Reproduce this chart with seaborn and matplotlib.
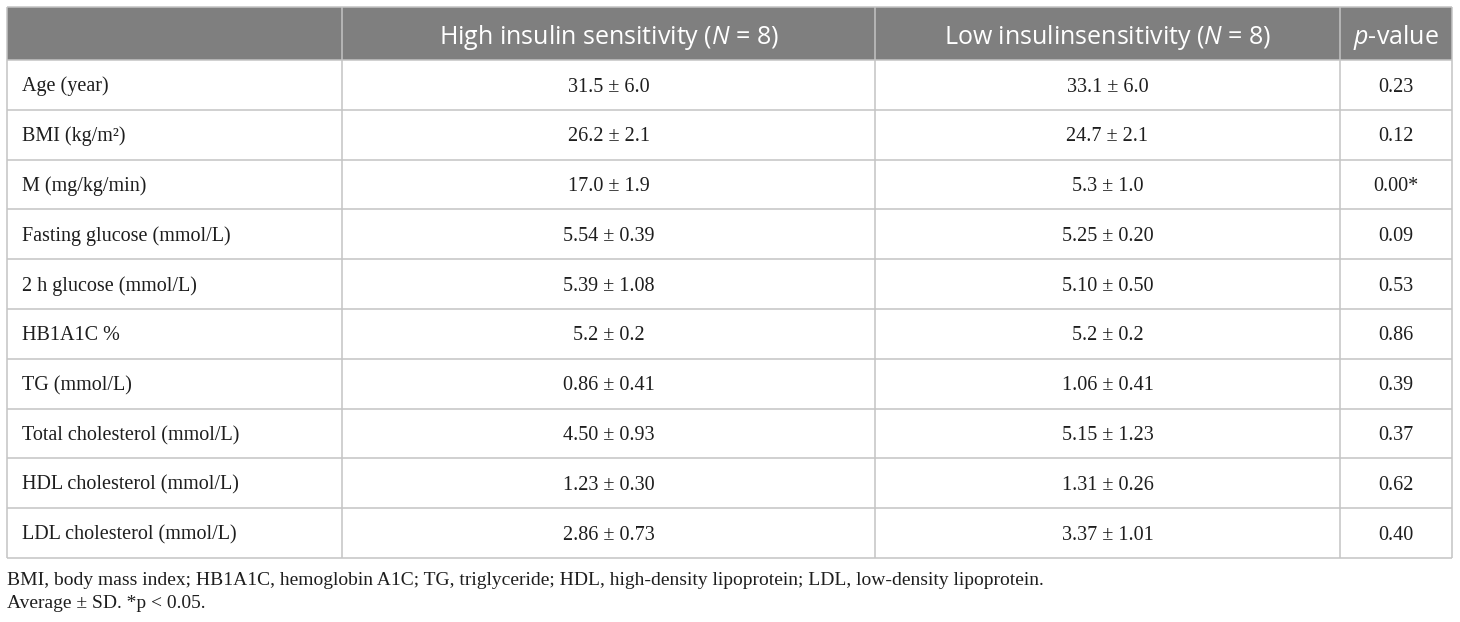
import numpy as np
import pandas as pd
import matplotlib
matplotlib.use("Agg")
import matplotlib.pyplot as plt
import seaborn as sns

# Table content
row_labels = [
    "Age (year)", "BMI (kg/m\u00b2)", "M (mg/kg/min)", "Fasting glucose (mmol/L)",
    "2 h glucose (mmol/L)", "HB1A1C %", "TG (mmol/L)", "Total cholesterol (mmol/L)",
    "HDL cholesterol (mmol/L)", "LDL cholesterol (mmol/L)",
]
high_sens = ["31.5 \u00b1 6.0", "26.2 \u00b1 2.1", "17.0 \u00b1 1.9", "5.54 \u00b1 0.39",
             "5.39 \u00b1 1.08", "5.2 \u00b1 0.2", "0.86 \u00b1 0.41", "4.50 \u00b1 0.93",
             "1.23 \u00b1 0.30", "2.86 \u00b1 0.73"]
low_sens = ["33.1 \u00b1 6.0", "24.7 \u00b1 2.1", "5.3 \u00b1 1.0", "5.25 \u00b1 0.20",
            "5.10 \u00b1 0.50", "5.2 \u00b1 0.2", "1.06 \u00b1 0.41", "5.15 \u00b1 1.23",
            "1.31 \u00b1 0.26", "3.37 \u00b1 1.01"]
p_values = ["0.23", "0.12", "0.00*", "0.09", "0.53", "0.86", "0.39", "0.37", "0.62", "0.40"]
headers = ["", r"High insulin sensitivity ($N$ = 8)", r"Low insulinsensitivity ($N$ = 8)",
           r"$p$-value"]
footnotes = [
    "BMI, body mass index; HB1A1C, hemoglobin A1C; TG, triglyceride; HDL, high-density lipoprotein; LDL, low-density lipoprotein.",
    "Average \u00b1 SD. *p < 0.05.",
]

table = pd.DataFrame({"label": row_labels, "high": high_sens, "low": low_sens, "p": p_values})

sns.set_theme(style="white")
plt.rcParams["mathtext.fontset"] = "custom"
plt.rcParams["mathtext.rm"] = "Open Sans"
plt.rcParams["mathtext.it"] = "Open Sans:italic"

W, H = 1460, 622
fig = plt.figure(figsize=(W / 100, H / 100), dpi=100)
ax = fig.add_axes([0, 0, 1, 1])
ax.set_xlim(0, W)
ax.set_ylim(H, 0)
ax.axis("off")

# layout in pixel units
col_edges = [7, 342, 875, 1340, 1452]
top, head_bottom, row_h = 7, 60, 49.8
n = len(table)
bottom = head_bottom + n * row_h
grid_col = "#c4c4c4"
header_bg = "#7f7f7f"
text_col = "#1e1e1e"
serif = "Liberation Serif"

ax.add_patch(plt.Rectangle((col_edges[0], top), col_edges[-1] - col_edges[0],
                           head_bottom - top, color=header_bg, lw=0))

# grid lines
ys = [top, head_bottom] + [head_bottom + (i + 1) * row_h for i in range(n)]
ax.hlines(ys, col_edges[0], col_edges[-1], color=grid_col, lw=1.1)
ax.vlines(col_edges, top, bottom, color=grid_col, lw=1.1)

centers = [(col_edges[i] + col_edges[i + 1]) / 2 for i in range(4)]

for j, h in enumerate(headers):
    if h:
        ax.text(centers[j], 44, h, color="white",
                fontsize=18, family="Open Sans", ha="center", va="baseline")

for i, row in table.iterrows():
    yb = head_bottom + i * row_h + 31.5
    ax.text(col_edges[0] + 15, yb, row["label"], fontsize=14.5, family=serif,
            ha="left", va="baseline", color=text_col)
    for j, key in enumerate(["high", "low", "p"], start=1):
        ax.text(centers[j], yb, row[key], fontsize=14.5, family=serif,
                ha="center", va="baseline", color=text_col)

for k, line in enumerate(footnotes):
    ax.text(col_edges[0], 585 + k * 22.5, line, fontsize=14, family=serif,
            ha="left", va="baseline", color=text_col)

fig.savefig("out.png", dpi=100)
